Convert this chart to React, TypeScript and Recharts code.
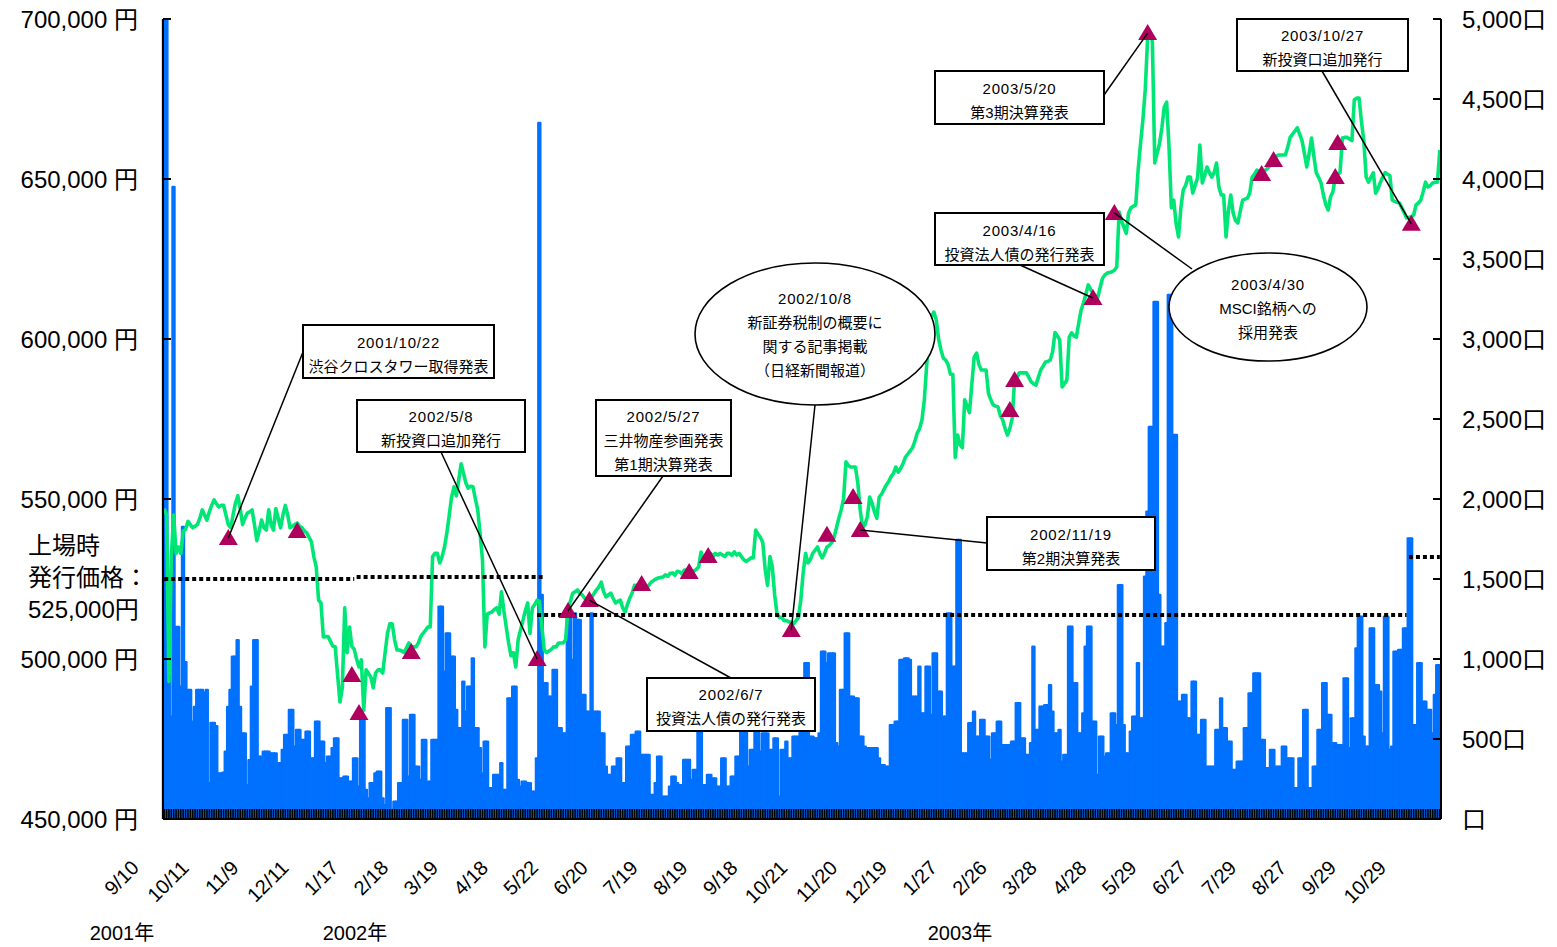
import React from 'react';
import { ComposedChart, Bar, Line, XAxis, YAxis, ReferenceLine } from 'recharts';

// ---------- DATA ----------
const tickDates = ['9/10','10/11','11/9','12/11','1/17','2/18','3/19','4/18','5/22','6/20','7/19','8/19','9/18','10/21','11/20','12/19','1/27','2/26','3/28','4/28','5/29','6/27','7/29','8/27','9/29','10/29'];
const TICK_STEP = 21;

// daily closing price (thousand yen)
const price = [
547,545,493,532,545,533,535,533,540,540.5,
543,542,541,541.5,542,544,546.6,545,543.4,546,
548,549.7,548.5,547.5,548,548,545,542,541,545,
548.7,551,547,542,544,545.6,546,546.6,542,537,
540,543.4,541,540.3,546.6,542,540.3,547,544,541,
545,548,545,541,541.5,542,542.5,541.5,541,540,
539.4,538,536.6,532,528.8,518.4,517.5,506.9,507,507,
505.5,504,503.8,495,486.6,491,516,502,510,504,
503,500,497.5,499.7,484,496.6,495.5,494.4,491,495.6,
496.6,496.6,495.6,502,508,511,511,506,502.8,502.8,
502.5,502,503.5,505,504,503.8,503.8,505,507,508,
509,510,510,532,533,533,530,532,535,539.4,
545,550.6,553.8,551,556,561,558,555,553.4,554,
553.8,550,546.6,539,531,503.8,514,514.4,514.7,515.5,
516,514,521,515,510,505,501,502,497.5,506,
509,512,515,517.5,508,516,517,518.4,518,510,
502.8,502,502.5,503,503.8,503.8,505,505,505,506,
516,518,520.6,521,521.6,520.5,520,519,518.4,519,
519.4,520.5,521.6,522.5,524,521,519.4,520,520.6,519,
517.5,518,518.4,516,514.7,517,519,520.6,523,523,
523,523,522.8,522.5,523,524,524.5,525,525.3,525.5,
525.6,526.3,525.8,526.8,526.9,526.2,527.4,527.2,526.6,527.8,
527.8,527,526.3,527.5,528,528.8,533.4,531,532.5,532,
533,532,533,532.5,533,532.5,532,533,533,532.4,
533.5,532.5,533,532,531,530.5,531,531.6,531.6,540.3,
539,538,536.3,528,523,532,528.8,520,514,513,
513,512,512,511.6,511.5,511,512,513,518.4,527,
533,530,531,533,534,535,533,531.6,533,535,
535.5,536.3,538,541,544,546.6,550,561.6,560.5,560,
560,560,555,546.6,541,542,544.4,550.6,548.7,546,
544,550.6,551.5,553,554.4,555.5,557,558,560,558.4,
559.5,561,563,564,565,566,568,570.6,572,574.7,
581,592,602,607,608.4,606,600,596.6,594,593.4,
592,589,589,563,570,567,566,581,579,577,
586,594.4,595.6,592,590.3,590.3,590.3,583,581,579.4,
579,578.8,576,574.7,572,570,572,575.3,587.2,588,
589.4,589.4,589.4,589.4,588,586.6,586,585.6,588,590.3,
591.5,592.8,593,593.4,596,602,601,599.7,585,586,
587.2,600.6,601.9,601,600.6,605,609,611.3,614,616.9,
615.5,614.4,613.5,613,616,619,620,620.6,620.8,621,
621.5,622.5,639.7,637,635,633,639.4,641,641.5,641.9,
652.8,661,668.4,678,694,695.6,693,655,658,661,
666,672.5,674,660,641,643.4,636,631.9,641,646.6,
648,650.6,650.6,645.6,648,650.3,660.6,648.75,651,653.75,
652,650.6,652,655,647.5,645,645,631.9,640,645,
639.4,637,636.25,640,643.4,643.7,644,645.6,650.6,651.5,
652.8,652.3,651.9,652.5,653,653.75,654.5,656,657,657.5,
657.5,657.5,657.5,660,663,664,665,666,664,662,
658,653.75,658,662.8,657,651.9,650.5,648.75,645,642,
640.3,644.4,646,650.6,651.5,652,662.8,663,663,662.5,
662,674.7,675.3,675.3,668,662,650.6,649,650.5,651.9,
645.6,647,649,650.6,652,651.5,651,643.4,643,642.7,
642.5,641,639.5,637.8,638,638.2,638.75,641.9,642.5,643.4,
646,649,647.5,648,648.75,649,649,659
];

// daily trading volume (units)
const volume = [
5000,5000,900,640,3950,1200,1200,827,1825,980,
806,806,608,700,806,806,806,790,806,223,
600,600,580,285,285,290,420,700,806,1014,
1014,1118,700,535,535,212,368,827,1118,1118,
390,390,420,420,420,410,410,410,348,348,
431,525,525,681,681,452,556,556,494,494,
546,546,379,379,608,608,483,483,348,390,
390,442,504,504,254,254,265,265,233,233,
379,379,202,619,619,181,129,223,223,285,
296,296,129,87,692,692,56,108,108,223,
223,619,619,265,650,650,327,327,244,494,
494,233,233,494,494,494,1327,1327,921,1160,
1160,1014,1014,681,567,567,858,671,827,827,
1004,567,567,442,285,483,483,192,192,275,
275,275,348,181,181,754,754,827,827,244,
202,233,233,223,223,171,171,379,4350,1400,
848,848,765,765,931,931,567,567,535,535,
1285,1285,994,1285,1244,1244,775,775,671,671,
1285,671,671,671,535,535,327,275,275,327,
327,379,379,223,223,452,452,525,525,546,
546,400,400,400,400,150,150,223,390,390,
140,140,140,202,265,265,223,212,212,369,
369,369,244,306,306,598,598,212,212,275,
275,254,254,202,202,379,379,202,202,265,
265,390,390,556,556,556,327,431,431,546,
546,420,535,535,535,431,431,504,504,140,
431,431,483,379,379,515,515,515,629,629,
973,973,515,515,504,504,535,1046,1046,973,
1035,1035,1035,473,452,806,806,1160,1160,765,
765,754,754,515,515,452,442,442,442,442,
442,379,337,337,327,327,587,587,608,608,
994,994,1004,1004,994,765,765,765,952,660,
660,952,952,650,1035,1035,796,796,640,640,
1285,1285,952,952,1744,1744,410,410,410,598,
598,671,515,515,619,619,515,515,369,535,
535,608,608,462,462,462,462,483,483,723,
723,504,504,400,400,473,1077,556,556,702,
702,712,712,837,671,535,535,556,358,400,
400,1202,1202,848,848,535,535,660,1077,1202,
1202,608,608,275,515,515,390,410,410,660,
660,587,1462,1462,587,410,410,546,640,640,
973,629,629,1514,1920,2450,2450,3231,3231,1400,
1077,1077,1223,3275,3275,2400,2400,733,733,775,
775,629,629,858,858,525,525,619,619,327,
327,327,327,556,556,754,567,567,483,483,
306,306,358,358,358,567,567,785,785,910,
910,910,494,494,317,317,431,431,327,327,
327,452,452,379,379,379,192,192,379,379,
681,681,192,192,327,327,556,556,848,848,
650,650,473,473,462,462,462,879,879,442,
629,629,1066,1264,1264,515,452,452,1191,1191,
837,837,796,535,1264,1264,431,452,1046,1046,
1056,1056,1191,1191,1754,1754,587,587,973,973,
733,733,681,681,535,775,962,962
];

// event markers (day index, price in thousand yen)
const eventIdx = [27,56,79,82,104,157,170,179,201,221,229,264,279,290,293,356,358,391,400,414,462,467,493,494,525];
const eventPrice = [537.8,540,495,483.1,502.2,500,515,518.4,523.4,527.2,532.2,509.1,538.8,550.6,540.3,577.8,587.2,612.8,639.4,695.6,651.6,655.9,650.6,661.25,636];

// dotted reference levels (thousand yen) over day ranges
const levelFrom = [0, 81, 157, 524];
const levelTo = [80, 160, 523, 537];
const levelValue = [525, 525.6, 513.75, 531.9];

const priceTicks = [450, 500, 550, 600, 650, 700];
const volumeTicks = [0, 500, 1000, 1500, 2000, 2500, 3000, 3500, 4000, 4500, 5000];

// annotation texts keyed by event day index
const noteEvent = [27, 157, 170, 179, 264, 293, 391, 400, 414, 525];
const noteText = [
  ['2001/10/22', '渋谷クロスタワー取得発表'],
  ['2002/5/8', '新投資口追加発行'],
  ['2002/5/27', '三井物産参画発表', '第1期決算発表'],
  ['2002/6/7', '投資法人債の発行発表'],
  ['2002/10/8', '新証券税制の概要に', '関する記事掲載', '（日経新聞報道）'],
  ['2002/11/19', '第2期決算発表'],
  ['2003/4/16', '投資法人債の発行発表'],
  ['2003/4/30', 'MSCI銘柄への', '採用発表'],
  ['2003/5/20', '第3期決算発表'],
  ['2003/10/27', '新投資口追加発行'],
];
const yearLabels = ['2001年', '2002年', '2003年'];
const listingLabel = ['上場時', '発行価格：', '525,000円'];

// ---------- LAYOUT (annotation geometry, page pixels) ----------
// [kind, x, y, w, h, anchorX, anchorY, firstLineY]
const noteLayout: any[] = [
  ['rect', 303, 325, 191, 53, 303, 352, 342],
  ['rect', 357, 400, 168, 52, 441, 452, 416],
  ['rect', 596, 400, 135, 76, 663, 476, 416],
  ['rect', 647, 678, 168, 53, 731, 678, 694],
  ['ellipse', 695, 263, 240, 142, 815, 405, 298],
  ['rect', 987, 517, 168, 53, 987, 543, 534],
  ['rect', 935, 213, 169, 52, 1020, 265, 230],
  ['ellipse', 1169, 253, 198, 108, 1192, 269, 284],
  ['rect', 935, 71, 169, 53, 1104, 95, 88],
  ['rect', 1237, 19, 171, 52, 1322, 71, 35],
];
const yearX = [122, 355, 960];

const FONT = "'Liberation Sans', Arial, 'Noto Sans CJK JP', sans-serif";
const GREEN = '#00E676';
const BLUE = '#0070FF';
const MARK = '#B0005E';

// ---------- TABLE ----------
const evMap = new Map<number, number>();
eventIdx.forEach((d, k) => evMap.set(d, eventPrice[k]));
const data = price.map((p, i) => ({
  d: i,
  price: p,
  vol: volume[i],
  ev: evMap.has(i) ? evMap.get(i) : null,
}));
const noteAnchor = new Map<number, number[]>();
noteEvent.forEach((d, k) => noteAnchor.set(d, [noteLayout[k][5], noteLayout[k][6]]));

const XTick = (props: any) => {
  const { x, y, payload } = props;
  const i = Number(payload.value);
  if (i % TICK_STEP !== 0) return <g />;
  const label = tickDates[i / TICK_STEP];
  if (!label) return <g />;
  const px = x - 24;
  const py = y + 60;
  return (
    <text x={px} y={py} textAnchor="end" fontSize={20} fontFamily={FONT} fill="#000"
      transform={`rotate(-45 ${px} ${py})`}>{label}</text>
  );
};

const PriceTick = (props: any) => {
  const { x, y, payload } = props;
  return (
    <text x={x - 33} y={y} textAnchor="end" dominantBaseline="central" fontSize={24} fontFamily={FONT} fill="#000">
      {(payload.value * 1000).toLocaleString('en-US')} 円
    </text>
  );
};

const VolTick = (props: any) => {
  const { x, y, payload } = props;
  const v = payload.value;
  return (
    <text x={x + 29} y={y} textAnchor="start" dominantBaseline="central" fontSize={24} fontFamily={FONT} fill="#000">
      {v === 0 ? '口' : v.toLocaleString('en-US') + '口'}
    </text>
  );
};

const EventDot = (props: any) => {
  const { cx, cy, index, payload } = props;
  if (!payload || payload.ev == null || cx == null || cy == null || isNaN(cy)) return <g key={`e${index}`} />;
  const a = noteAnchor.get(payload.d);
  return (
    <g key={`e${index}`}>
      <polygon points={`${cx},${cy - 9} ${cx + 9.5},${cy + 7} ${cx - 9.5},${cy + 7}`} fill={MARK} />
      {a && <line x1={a[0]} y1={a[1]} x2={cx} y2={cy} stroke="#000" strokeWidth={1.5} />}
    </g>
  );
};

export default function App() {
  return (
    <div style={{ position: 'absolute', left: 0, top: 0, width: 1557, height: 947, background: '#fff' }}>
      <ComposedChart width={1557} height={947} data={data}
        margin={{ top: 19, right: 106, bottom: 98, left: 153 }}
        barCategoryGap={0} barGap={0}>
        <XAxis dataKey="d" type="category" interval={0} height={30}
          tickSize={-10} tickMargin={0}
          tickLine={{ stroke: '#000', strokeWidth: 1.6 }}
          axisLine={{ stroke: '#000', strokeWidth: 2 }}
          tick={<XTick />} />
        <YAxis yAxisId="price" orientation="left" width={10} type="number"
          domain={[450, 700]} ticks={priceTicks} allowDataOverflow
          tickSize={-8} tickMargin={0}
          tickLine={{ stroke: '#000', strokeWidth: 2 }}
          axisLine={{ stroke: '#000', strokeWidth: 2 }}
          tick={<PriceTick />} />
        <YAxis yAxisId="vol" orientation="right" width={10} type="number"
          domain={[0, 5000]} ticks={volumeTicks} allowDataOverflow
          tickSize={-8} tickMargin={0}
          tickLine={{ stroke: '#000', strokeWidth: 2 }}
          axisLine={{ stroke: '#000', strokeWidth: 2 }}
          tick={<VolTick />} />
        <Bar yAxisId="vol" dataKey="vol" fill={BLUE} stroke={BLUE} strokeWidth={2.4}
          strokeLinejoin="round" isAnimationActive={false} />
        <Line yAxisId="price" dataKey="price" type="linear" stroke={GREEN} strokeWidth={3.6}
          dot={false} activeDot={false} isAnimationActive={false} strokeLinejoin="round" />
        {levelValue.map((v, k) => (
          <ReferenceLine key={`lv${k}`} yAxisId="price"
            segment={[{ x: levelFrom[k], y: v }, { x: levelTo[k], y: v }]}
            stroke="#000" strokeWidth={4} strokeDasharray="4 3" ifOverflow="visible" />
        ))}
        <Line yAxisId="price" dataKey="ev" stroke="none" dot={EventDot} activeDot={false}
          isAnimationActive={false} connectNulls={false} legendType="none" />
      </ComposedChart>
      <svg width={1557} height={947} style={{ position: 'absolute', left: 0, top: 0, pointerEvents: 'none' }}>
        {noteLayout.map((n, k) => {
          const [kind, x, y, w, h, , , ly] = n;
          const lines = noteText[k];
          return (
            <g key={`n${k}`}>
              {kind === 'rect'
                ? <rect x={x} y={y} width={w} height={h} fill="#fff" stroke="#000" strokeWidth={2} />
                : <ellipse cx={x + w / 2} cy={y + h / 2} rx={w / 2} ry={h / 2} fill="#fff" stroke="#000" strokeWidth={1.6} />}
              {lines.map((t, j) => (
                <text key={j} x={x + w / 2} y={ly + j * 24} textAnchor="middle" dominantBaseline="central"
                  fontSize={15} letterSpacing={j === 0 ? 0.8 : 0} fontFamily={FONT} fill="#000">{t}</text>
              ))}
            </g>
          );
        })}
        {listingLabel.map((t, j) => (
          <text key={`l${j}`} x={28} y={545 + j * 32} dominantBaseline="central" fontSize={24}
            fontFamily={FONT} fill="#000">{t}</text>
        ))}
        {yearLabels.map((t, j) => (
          <text key={`y${j}`} x={yearX[j]} y={933} textAnchor="middle" dominantBaseline="central" fontSize={20}
            fontFamily={FONT} fill="#000">{t}</text>
        ))}
      </svg>
    </div>
  );
}
